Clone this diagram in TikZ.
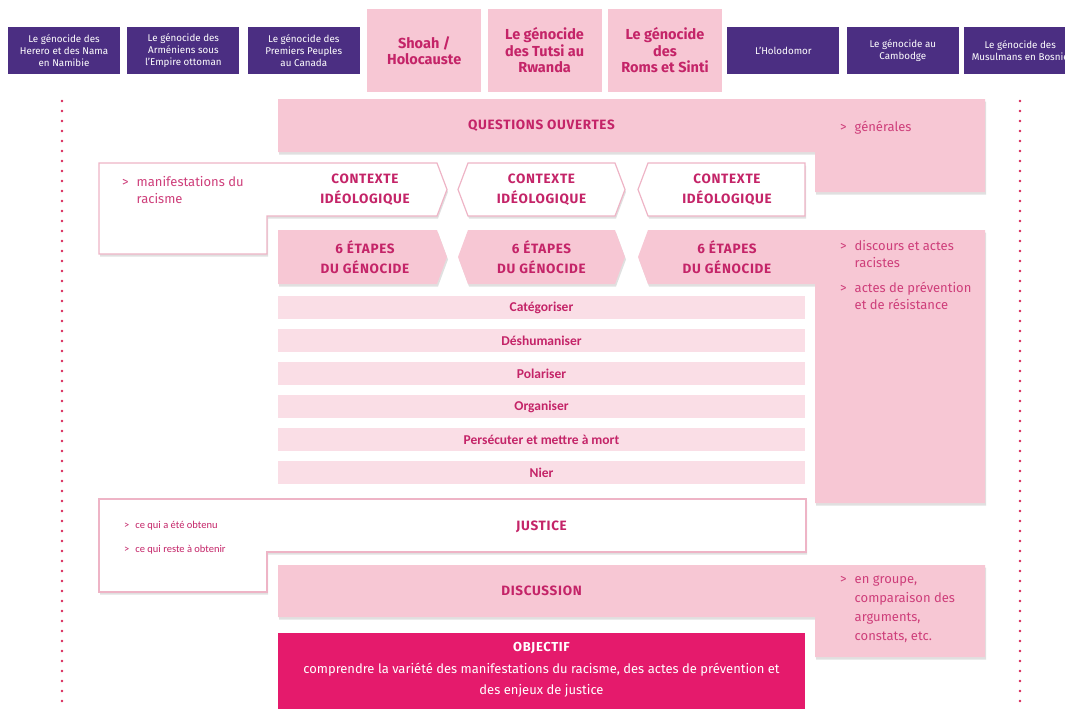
\documentclass[tikz,border=0pt]{standalone}
\usepackage{fontspec}
\setmainfont{Fira Sans}
\newfontfamily\barfont{Carlito}
\usetikzlibrary{positioning, shadows}

\definecolor{genviolet}{RGB}{75,46,130}
\definecolor{rose}{RGB}{247,199,212}
\definecolor{roseclair}{RGB}{250,222,230}
\definecolor{rosetrait}{RGB}{238,180,198}
\definecolor{magtxt}{RGB}{196,36,104}
\definecolor{listtxt}{RGB}{206,62,122}
\definecolor{objfill}{RGB}{229,26,108}
\definecolor{dotred}{RGB}{215,38,88}

\tikzstyle{purple_box} = [
    rectangle,
    fill=genviolet,
    text=white,
    font=\fontsize{9.8}{11.8}\selectfont,
    align=center,
    inner sep=0pt,
    minimum width=112pt,
    minimum height=47pt
]
\tikzstyle{pink_top} = [
    rectangle,
    fill=rose,
    text=magtxt,
    font=\bfseries\fontsize{14.5}{16.5}\selectfont,
    align=center,
    inner sep=0pt,
    minimum width=114pt,
    minimum height=83pt
]
\tikzstyle{pink_shape} = [
    fill=rose,
    drop shadow={shadow xshift=1pt, shadow yshift=-2.5pt, opacity=0.12, fill=black}
]
\tikzstyle{white_shape} = [
    fill=white,
    draw=rosetrait,
    line width=1.2pt,
    drop shadow={shadow xshift=1pt, shadow yshift=-2.5pt, opacity=0.12, fill=black}
]
\tikzstyle{head_text} = [
    text=magtxt,
    font=\bfseries\fontsize{13.5}{20}\selectfont\addfontfeatures{LetterSpace=5},
    align=center,
    inner sep=0pt
]
\tikzstyle{list_text} = [
    text=listtxt,
    font=\fontsize{13}{17}\selectfont,
    anchor=base west,
    inner sep=0pt
]
\tikzstyle{step_bar} = [
    rectangle,
    fill=roseclair,
    text=magtxt,
    font=\barfont\bfseries\fontsize{13.5}{14}\selectfont,
    inner sep=0pt,
    minimum width=527pt,
    minimum height=23pt
]
\tikzstyle{dot_line} = [
    dotred,
    line width=2.6pt,
    line cap=round,
    dash pattern=on 0pt off 10pt
]

\begin{document}
\begin{tikzpicture}[x=1pt, y=-1pt]
\useasboundingbox (0,0) rectangle (1065,709);
\clip (0,0) rectangle (1065,709);

% genocides
\node [purple_box] (herero) at (64,50.5) {Le génocide des\\Herero et des Nama\\en Namibie};
\node [purple_box, right=7pt of herero] (armeniens) {Le génocide des\\Arméniens sous\\l’Empire ottoman};
\node [purple_box, right=8pt of armeniens] (canada) {Le génocide des\\Premiers Peuples\\au Canada};
\node [pink_top, right=7pt of canada] (shoah) {Shoah /\\Holocauste};
\node [pink_top, right=6pt of shoah] (tutsi) {Le génocide\\des Tutsi au\\Rwanda};
\node [pink_top, right=6pt of tutsi] (roms) {Le génocide\\des\\Roms et Sinti};
\node [purple_box, right=5pt of roms] (holodomor) {L’Holodomor};
\node [purple_box, right=7pt of holodomor] (cambodge) {Le génocide au\\Cambodge};
\node [purple_box, right=5pt of cambodge] (bosnie) {Le génocide des\\Musulmans en Bosnie};

\draw [dot_line] (62,101) -- (62,712);
\draw [dot_line] (1020,101) -- (1020,712);

% questions ouvertes
\path [pink_shape] (278,99) -- (985,99) -- (985,192) -- (815,192) -- (815,152) -- (278,152) -- cycle;
\node [head_text] (questions) at (541.5,126) {QUESTIONS OUVERTES};
\node [list_text] (generales) at (840,131) {\begin{tabular}[t]{@{}l@{\hspace{8pt}}l@{}}> & générales\end{tabular}};

% contexte
\path [white_shape] (99,163) -- (437,163) -- (447,189.5) -- (437,216) -- (267,216) -- (267,254) -- (99,254) -- cycle;
\path [white_shape] (468,163) -- (615,163) -- (625,189.5) -- (615,216) -- (468,216) -- (458,189.5) -- cycle;
\path [white_shape] (648,163) -- (805,163) -- (805,216) -- (648,216) -- (638,189.5) -- cycle;
\node [list_text] (racisme) at (122,186) {\begin{tabular}[t]{@{}l@{\hspace{8pt}}l@{}}> & manifestations du\\ & racisme\end{tabular}};
\node [head_text] (contexte1) at (365,190) {CONTEXTE\\IDÉOLOGIQUE};
\node [head_text] (contexte2) at (541.5,190) {CONTEXTE\\IDÉOLOGIQUE};
\node [head_text] (contexte3) at (727,190) {CONTEXTE\\IDÉOLOGIQUE};

% 6 etapes
\path [pink_shape] (278,230) -- (437,230) -- (447,257) -- (437,284) -- (278,284) -- cycle;
\path [pink_shape] (468,230) -- (615,230) -- (625,257) -- (615,284) -- (468,284) -- (458,257) -- cycle;
\path [pink_shape] (648,230) -- (985,230) -- (985,503) -- (815,503) -- (815,284) -- (648,284) -- (638,257) -- cycle;
\node [head_text] (etapes1) at (365,257) {6 ÉTAPES\\DU GÉNOCIDE};
\node [head_text] (etapes2) at (541.5,257) {6 ÉTAPES\\DU GÉNOCIDE};
\node [head_text] (etapes3) at (727,257) {6 ÉTAPES\\DU GÉNOCIDE};
\node [list_text] (discours) at (840,250) {\begin{tabular}[t]{@{}l@{\hspace{8pt}}l@{}}> & discours et actes\\ & racistes\\[8pt] > & actes de prévention\\ & et de résistance\end{tabular}};

\foreach \etape [count=\i] in {Catégoriser, Déshumaniser, Polariser, Organiser, Persécuter et mettre à mort, Nier}
    \node [step_bar] (bar\i) at (541.5,274.5+33*\i) {\etape};

% justice
\path [white_shape] (99,499) -- (806,499) -- (806,552) -- (267,552) -- (267,592) -- (99,592) -- cycle;
\node [head_text] (justice) at (541.5,527) {JUSTICE};
\node [list_text, text=magtxt, font=\barfont\fontsize{10.5}{24}\selectfont] (obtenu) at (124,528) {\begin{tabular}[t]{@{}l@{\hspace{6pt}}l@{}}> & ce qui a été obtenu\\ > & ce qui reste à obtenir\end{tabular}};

% discussion
\path [pink_shape] (278,565) -- (985,565) -- (985,657) -- (815,657) -- (815,617) -- (278,617) -- cycle;
\node [head_text] (discussion) at (541.5,591) {DISCUSSION};
\node [list_text, font=\fontsize{13}{19}\selectfont] (groupe) at (840,583) {\begin{tabular}[t]{@{}l@{\hspace{8pt}}l@{}}> & en groupe,\\ & comparaison des\\ & arguments,\\ & constats, etc.\end{tabular}};

% objectif
\path [fill=objfill] (278,633) rectangle (805,712);
\node [text=white, font=\bfseries\fontsize{13}{14}\selectfont\addfontfeatures{LetterSpace=5}] (objectif) at (541.5,648) {OBJECTIF};
\node [text=white, font=\fontsize{13}{21}\selectfont, align=center, below=2pt of objectif] (but) {comprendre la variété des manifestations du racisme, des actes de prévention et\\des enjeux de justice};
\end{tikzpicture}
\end{document}
